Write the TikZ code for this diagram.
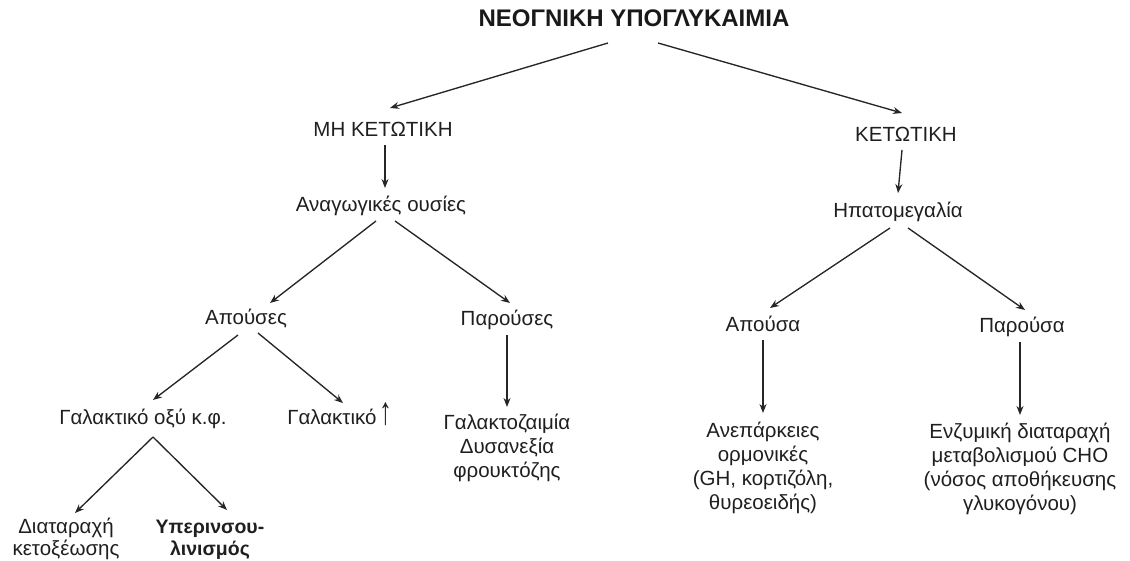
\documentclass[tikz,border=0pt]{standalone}
\usepackage{fontspec}
\setmainfont{Liberation Sans}
\usetikzlibrary{arrows.meta}
\newcommand{\mlines}[1]{\begin{tabular}[t]{@{}c@{}}#1\end{tabular}}
\begin{document}
\begin{tikzpicture}[x=1pt,y=-1pt,
  lbl/.style={anchor=base, inner sep=0pt, text=black!88,
    font=\fontsize{20.5}{24}\selectfont},
  ttl/.style={anchor=base, inner sep=0pt, text=black!90,
    font=\fontsize{24}{28}\selectfont\bfseries},
  arr/.style={draw=black!85, line width=1.35pt,
    -{Stealth[length=9pt,width=7pt]}}]
\useasboundingbox (0,0) rectangle (1130,561);
\renewcommand{\arraystretch}{1}
% nodes
\node[ttl] (title) at (634,27) {ΝΕΟΓΝΙΚΗ ΥΠΟΓΛΥΚΑΙΜΙΑ};
\node[lbl] (mh) at (383,137) {ΜΗ ΚΕΤΩΤΙΚΗ};
\node[lbl] (ket) at (906,142) {ΚΕΤΩΤΙΚΗ};
\node[lbl] (anag) at (381,212) {Αναγωγικές ουσίες};
\node[lbl] (ipat) at (898,218) {Ηπατομεγαλία};
\node[lbl] (apouses) at (246,325) {Απούσες};
\node[lbl] (parouses) at (507,326) {Παρούσες};
\node[lbl] (apousa) at (763,331) {Απούσα};
\node[lbl] (parousa) at (1022,333) {Παρούσα};
\node[lbl] (galox) at (143,424) {Γαλακτικό οξύ κ.φ.};
\node[lbl] (galakt) at (340,424) {Γαλακτικό\,\scalebox{1.25}[1.9]{↑}};
\node[lbl] (galz) at (507,429) {\mlines{Γαλακτοζαιμία\\Δυσανεξία\\φρουκτόζης}};
\node[lbl] (anep) at (763,437) {\mlines{Ανεπάρκειες\\ορμονικές\\(GH, κορτιζόλη,\\θυρεοειδής)}};
\node[lbl] (enz) at (1020,438) {\mlines{Ενζυμική διαταραχή\\μεταβολισμού CHO\\(νόσος αποθήκευσης\\γλυκογόνου)}};
\node[lbl, font=\fontsize{20.5}{22.5}\selectfont] (diat) at (66,533) {\mlines{Διαταραχή\\κετοξέωσης}};
\node[lbl, font=\fontsize{19.5}{22.5}\selectfont\bfseries] (yper) at (210,533) {\mlines{Υπερινσου-\\λινισμός}};
% connectors
\draw[arr] ([shift={(-26,16)}]title.base) -- ([shift={(7,-29)}]mh.base);
\draw[arr] ([shift={(24,16)}]title.base) -- ([shift={(-4,-29)}]ket.base);
\draw[arr] ([shift={(2,8)}]mh.base) -- ([shift={(4,-24)}]anag.base);
\draw[arr] ([shift={(-4,8)}]ket.base) -- ([shift={(0,-25)}]ipat.base);
\draw[arr] ([shift={(-5,9)}]anag.base) -- ([shift={(24,-22)}]apouses.base);
\draw[arr] ([shift={(14,9)}]anag.base) -- ([shift={(3,-23)}]parouses.base);
\draw[arr] ([shift={(-8,10)}]ipat.base) -- ([shift={(7,-23)}]apousa.base);
\draw[arr] ([shift={(10,10)}]ipat.base) -- ([shift={(3,-23)}]parousa.base);
\draw[arr] ([shift={(-8,10)}]apouses.base) -- ([shift={(10,-24)}]galox.base);
\draw[arr] ([shift={(12,8)}]apouses.base) -- ([shift={(3,-21)}]galakt.base);
\draw[arr] ([shift={(0,9)}]parouses.base) -- ([shift={(0,-22)}]galz.base);
\draw[arr] ([shift={(0,9)}]apousa.base) -- ([shift={(0,-24)}]anep.base);
\draw[arr] ([shift={(-2,9)}]parousa.base) -- ([shift={(0,-23)}]enz.base);
\draw[arr] ([shift={(10,13)}]galox.base) -- ([shift={(9,-20)}]diat.base);
\draw[arr] ([shift={(10,13)}]galox.base) -- ([shift={(17,-23)}]yper.base);
\end{tikzpicture}
\end{document}
